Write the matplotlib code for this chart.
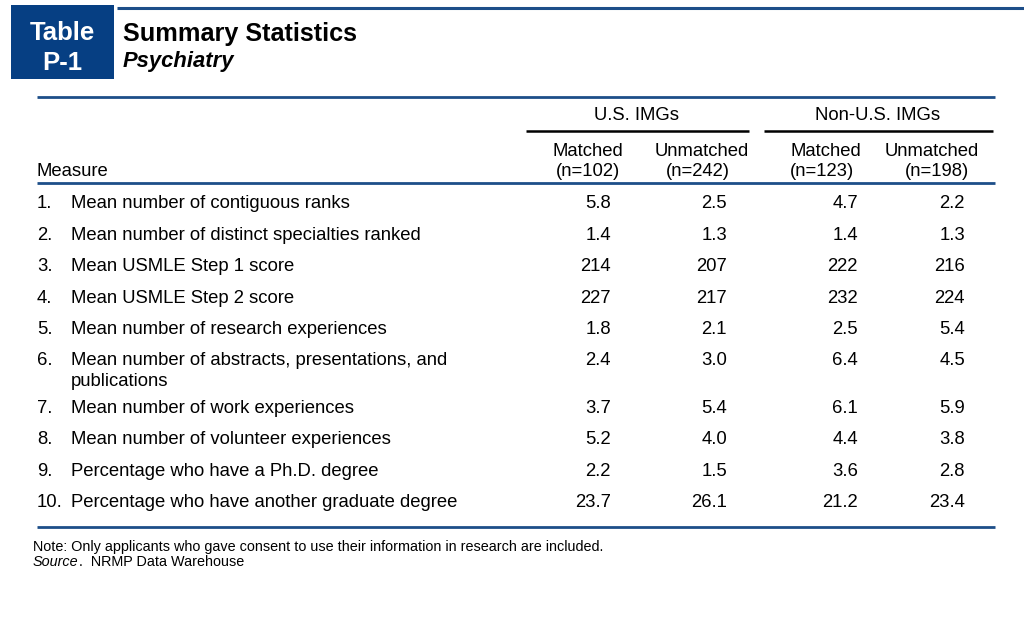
import matplotlib
matplotlib.use("Agg")
import matplotlib.pyplot as plt
from matplotlib.patches import Rectangle

plt.rcParams['font.family'] = ['Liberation Sans', 'DejaVu Sans']

# ---- data ----
title = "Summary Statistics"
subtitle = "Psychiatry"
table_label = ["Table", "P-1"]
group_labels = ["U.S. IMGs", "Non-U.S. IMGs"]
column_labels = [["Matched", "(n=102)"], ["Unmatched", "(n=242)"],
                 ["Matched", "(n=123)"], ["Unmatched", "(n=198)"]]
row_numbers = ["1.", "2.", "3.", "4.", "5.", "6.", "7.", "8.", "9.", "10."]
measures = [
    ["Mean number of contiguous ranks"],
    ["Mean number of distinct specialties ranked"],
    ["Mean USMLE Step 1 score"],
    ["Mean USMLE Step 2 score"],
    ["Mean number of research experiences"],
    ["Mean number of abstracts, presentations, and", "publications"],
    ["Mean number of work experiences"],
    ["Mean number of volunteer experiences"],
    ["Percentage who have a Ph.D. degree"],
    ["Percentage who have another graduate degree"],
]
us_matched = ["5.8", "1.4", "214", "227", "1.8", "2.4", "3.7", "5.2", "2.2", "23.7"]
us_unmatched = ["2.5", "1.3", "207", "217", "2.1", "3.0", "5.4", "4.0", "1.5", "26.1"]
non_matched = ["4.7", "1.4", "222", "232", "2.5", "6.4", "6.1", "4.4", "3.6", "21.2"]
non_unmatched = ["2.2", "1.3", "216", "224", "5.4", "4.5", "5.9", "3.8", "2.8", "23.4"]
note = "Note: Only applicants who gave consent to use their information in research are included."
source = ("Source", ".  NRMP Data Warehouse")

# ---- layout (pixel space) ----
W, H = 1024, 640
fig = plt.figure(figsize=(W / 100, H / 100), dpi=100)
ax = fig.add_axes([0, 0, 1, 1])
ax.set_xlim(0, W)
ax.set_ylim(H, 0)
ax.axis('off')

box_c = '#063f83'
line_c = '#1d4e89'
fs = 13.3
va = 'center_baseline'

# header box
ax.add_patch(Rectangle((11, 5), 103, 74, color=box_c, lw=0))
ax.text(62.5, 31, table_label[0], color='white', fontsize=18.5, fontweight='bold', ha='center', va=va)
ax.text(62.5, 61, table_label[1], color='white', fontsize=18.5, fontweight='bold', ha='center', va=va)
ax.plot([117, 1024], [7.5, 7.5], color=line_c, lw=2.2, solid_capstyle='butt')
ax.text(123, 32, title, fontsize=18.2, fontweight='bold', ha='left', va=va)
ax.text(123, 59, subtitle, fontsize=15.8, fontweight='bold', style='italic', ha='left', va=va)

# table rules
for y in (97, 183, 527):
    ax.plot([37, 995], [y, y], color=line_c, lw=2.0, solid_capstyle='butt')
ax.plot([526, 749], [131, 131], color='black', lw=1.8, solid_capstyle='butt')
ax.plot([764, 993], [131, 131], color='black', lw=1.8, solid_capstyle='butt')

# group headers
ax.text(637, 114, group_labels[0], fontsize=fs, ha='center', va=va)
ax.text(878, 114, group_labels[1], fontsize=fs, ha='center', va=va)

col_centers = [[588, 588], [702, 698], [826, 822], [932, 937]]
for (l1, l2), (c1, c2) in zip(column_labels, col_centers):
    ax.text(c1, 149, l1, fontsize=fs, ha='center', va=va)
    ax.text(c2, 169, l2, fontsize=fs, ha='center', va=va)
ax.text(37, 169, "Measure", fontsize=fs, ha='left', va=va)

# body rows
col_right = [611, 727, 858, 965]
columns = [us_matched, us_unmatched, non_matched, non_unmatched]
y = 202
step = 31.4
for i, (num, meas) in enumerate(zip(row_numbers, measures)):
    ax.text(37, y, num, fontsize=fs, ha='left', va=va)
    for k, line in enumerate(meas):
        ax.text(71, y + k * 21, line, fontsize=fs, ha='left', va=va)
    for xr, col in zip(col_right, columns):
        ax.text(xr, y, col[i], fontsize=fs, ha='right', va=va)
    y += step + (len(meas) - 1) * 16.2

# footnotes
ax.text(33, 545, note, fontsize=10.4, ha='left', va=va)
t = ax.text(33, 561, source[0], fontsize=10.4, style='italic', ha='left', va=va)
fig.canvas.draw()
bb = t.get_window_extent()
ax.text(33 + bb.width, 561, source[1], fontsize=10.4, ha='left', va=va)

fig.savefig('out.png', dpi=100)
